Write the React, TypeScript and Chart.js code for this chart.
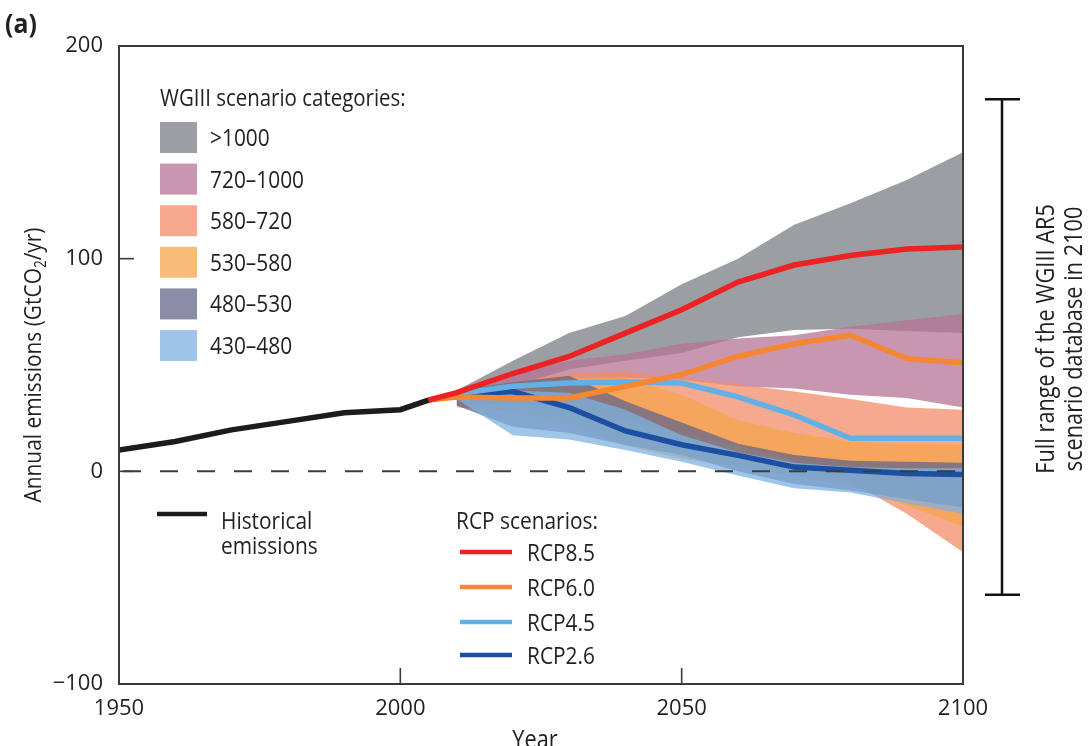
import React, { useEffect, useRef } from 'react';
import { Chart, registerables } from 'chart.js';

Chart.register(...registerables);

const FAMILY = '"Open Sans", "Noto Sans", sans-serif';
const INK = '#231f20';
const FRAME = '#3a3a3a';
const SX = 0.87;
const WEIGHT = '500';

// ---- data ----
const histYears = [1950, 1960, 1970, 1980, 1990, 2000, 2005];
const histEmissions = [10, 14, 19.5, 23.5, 27.5, 29, 33.5];

const rcpYears = [2005, 2010, 2020, 2030, 2040, 2050, 2060, 2070, 2080, 2090, 2100];
const rcp85 = [33.5, 37, 46, 54, 65, 76, 89, 97, 101.5, 104.5, 105.5];
const rcp60 = [33.5, 35, 34.5, 34.5, 40, 45.5, 54, 60, 64, 53, 51];
const rcp45 = [33.5, 36.5, 40, 41.5, 42, 41.5, 35, 26.5, 15.5, 15.5, 15.5];
const rcp26 = [33.5, 36, 37.5, 30, 19, 12.5, 7.5, 2, 0.5, -1, -1.5];

const bandYears = [2010, 2020, 2030, 2040, 2050, 2060, 2070, 2080, 2090, 2100];
const cat1000Hi = [38, 52, 65, 73, 88, 100, 116, 126, 137, 150];
const cat1000Lo = [35, 40, 48, 52, 55.6, 63, 66.5, 67, 66, 65];
const cat720Hi = [38, 46, 52, 55, 60, 62.5, 64, 68, 71, 74];
const cat720Lo = [34, 37, 40, 44, 43, 40, 39, 36, 34.5, 30];
const cat580Hi = [37, 42, 46, 47, 44, 41, 37.5, 34, 30, 29];
const cat580Lo = [31, 32, 30, 24, 18, 12, 5, -5, -20, -38];
const cat530Hi = [36, 40, 44, 44, 36, 24, 18, 14, 13, 12.5];
const cat530Lo = [30, 28, 22, 12, 6, 2, -2, -7, -16, -26];
const cat480Hi = [38, 42, 45, 33, 23, 13, 7.7, 5, 4.5, 4];
const cat480Lo = [31, 21, 18, 12.4, 7.7, 0, -6, -9, -13, -17];
const cat430Hi = [36, 38, 37, 29, 17, 9, 4, 2, 1.5, 1.5];
const cat430Lo = [34, 17, 15, 10, 4.5, -2, -8, -10, -15, -20];

const zeroYears = [1950, 2100];
const zeroValues = [0, 0];

const fullRange2100 = [-58, 175];

const catLabels = ['>1000', '720\u20131000', '580\u2013720', '530\u2013580', '480\u2013530', '430\u2013480'];
const catColors = [
  'rgba(122,127,132,0.75)',
  'rgba(182,115,147,0.75)',
  'rgba(242,142,106,0.75)',
  'rgba(247,164,75,0.75)',
  'rgba(100,102,136,0.75)',
  'rgba(127,178,224,0.75)',
];
const catHi = [cat1000Hi, cat720Hi, cat580Hi, cat530Hi, cat480Hi, cat430Hi];
const catLo = [cat1000Lo, cat720Lo, cat580Lo, cat530Lo, cat480Lo, cat430Lo];

const rcpLabels = ['RCP8.5', 'RCP6.0', 'RCP4.5', 'RCP2.6'];
const rcpColors = ['#ed2224', '#f58634', '#62b0e6', '#1c4fa1'];
const rcpSeries = [rcp85, rcp60, rcp45, rcp26];
const histColor = '#1c1c1c';

const xy = (xs: number[], ys: number[]) => xs.map((x, i) => ({ x, y: ys[i] }));

function drawText(
  ctx: CanvasRenderingContext2D,
  str: string,
  x: number,
  y: number,
  size: number,
  opts: { weight?: string; align?: CanvasTextAlign; color?: string; sx?: number; rotate?: number } = {}
) {
  const { weight = WEIGHT, align = 'left', color = INK, sx = SX, rotate = 0 } = opts;
  ctx.save();
  ctx.translate(x, y);
  if (rotate) ctx.rotate(rotate);
  ctx.scale(sx, 1);
  ctx.font = `${weight} ${size}px ${FAMILY}`;
  ctx.fillStyle = color;
  ctx.textAlign = align;
  ctx.textBaseline = 'alphabetic';
  ctx.fillText(str, 0, 0);
  ctx.restore();
}

function seg(ctx: CanvasRenderingContext2D, x1: number, y1: number, x2: number, y2: number) {
  ctx.beginPath();
  ctx.moveTo(x1, y1);
  ctx.lineTo(x2, y2);
  ctx.stroke();
}

const decorPlugin = {
  id: 'decor',
  afterDatasetsDraw(chart: any) {
    const { ctx, chartArea: a, scales } = chart;
    const xs = scales.x;
    const ys = scales.y;
    ctx.save();
    ctx.strokeStyle = FRAME;
    ctx.lineWidth = 2;
    ctx.strokeRect(a.left, a.top, a.right - a.left, a.bottom - a.top);
    ctx.lineWidth = 1.6;
    ys.ticks.forEach((t: any) => {
      if (t.value === ys.min || t.value === ys.max) return;
      const py = ys.getPixelForValue(t.value);
      seg(ctx, a.left, py, a.left + 15, py);
    });
    xs.ticks.forEach((t: any) => {
      if (t.value === xs.min || t.value === xs.max) return;
      const px = xs.getPixelForValue(t.value);
      seg(ctx, px, a.bottom, px, a.bottom - 16);
    });
    ctx.restore();
  },
  afterDraw(chart: any) {
    const { ctx, chartArea: a, scales } = chart;
    const ys = scales.y;
    ctx.save();

    // panel label
    drawText(ctx, '(a)', 5, 33, 27, { weight: 'bold', sx: 0.92 });

    // y-axis title with subscript
    {
      const size = 24;
      const p1 = 'Annual emissions (GtCO';
      const p2 = '2';
      const p3 = '/yr)';
      ctx.font = `${WEIGHT} ${size}px ${FAMILY}`;
      const w1 = ctx.measureText(p1).width;
      const w3 = ctx.measureText(p3).width;
      ctx.font = `${WEIGHT} ${size * 0.65}px ${FAMILY}`;
      const w2 = ctx.measureText(p2).width;
      const total = (w1 + w2 + w3) * SX;
      const cy = (a.top + a.bottom) / 2;
      ctx.save();
      ctx.translate(41, cy);
      ctx.rotate(-Math.PI / 2);
      ctx.scale(SX, 1);
      ctx.fillStyle = INK;
      ctx.textAlign = 'left';
      ctx.textBaseline = 'alphabetic';
      const start = -total / 2 / SX;
      ctx.font = `${WEIGHT} ${size}px ${FAMILY}`;
      ctx.fillText(p1, start, 0);
      ctx.font = `${WEIGHT} ${size * 0.65}px ${FAMILY}`;
      ctx.fillText(p2, start + w1, 5);
      ctx.font = `${WEIGHT} ${size}px ${FAMILY}`;
      ctx.fillText(p3, start + w1 + w2, 0);
      ctx.restore();
    }

    // x-axis title
    drawText(ctx, 'Year', (a.left + a.right) / 2 - 6, 748, 25, { align: 'center' });

    // scenario category legend
    drawText(ctx, 'WGIII scenario categories:', 160, 106, 23.5);
    catLabels.forEach((lab, i) => {
      const top = 122 + i * 41.6;
      ctx.fillStyle = catColors[i];
      ctx.fillRect(160, top, 37, 31);
      drawText(ctx, lab, 210, top + 24, 24);
    });

    // historical legend
    ctx.strokeStyle = histColor;
    ctx.lineWidth = 4.5;
    seg(ctx, 157, 514, 207, 514);
    drawText(ctx, 'Historical', 221, 529, 24);
    drawText(ctx, 'emissions', 221, 554, 24);

    // RCP legend
    drawText(ctx, 'RCP scenarios:', 456, 529, 24);
    const rcpY = [552, 587, 622, 655];
    rcpLabels.forEach((lab, i) => {
      ctx.strokeStyle = rcpColors[i];
      ctx.lineWidth = 4.5;
      seg(ctx, 460, rcpY[i], 512, rcpY[i]);
      drawText(ctx, lab, 527, rcpY[i] + 9, 24);
    });

    // full range bracket
    const yTop = ys.getPixelForValue(fullRange2100[1]);
    const yBot = ys.getPixelForValue(fullRange2100[0]);
    ctx.strokeStyle = '#111';
    ctx.lineWidth = 2.5;
    seg(ctx, 1002, yTop, 1002, yBot);
    seg(ctx, 985, yTop, 1020, yTop);
    seg(ctx, 985, yBot, 1020, yBot);

    const cy = (yTop + yBot) / 2 - 8;
    drawText(ctx, 'Full range of the WGIII AR5', 1054, cy, 25, { align: 'center', rotate: -Math.PI / 2 });
    drawText(ctx, 'scenario database in 2100', 1082, cy, 25, { align: 'center', rotate: -Math.PI / 2 });

    ctx.restore();
  },
};

export default function App() {
  const ref = useRef<HTMLCanvasElement>(null);

  useEffect(() => {
    const canvas = ref.current;
    if (!canvas) return;

    const lineBase = { pointRadius: 0, fill: false, tension: 0, borderCapStyle: 'butt' as const };
    const datasets: any[] = [];

    datasets.push({
      label: 'zero',
      data: xy(zeroYears, zeroValues),
      borderColor: '#3c3c3c',
      borderWidth: 2,
      borderDash: [18, 19],
      borderDashOffset: 33,
      order: -1,
      ...lineBase,
    });
    datasets.push({
      label: 'Historical emissions',
      data: xy(histYears, histEmissions),
      borderColor: histColor,
      borderWidth: 5.5,
      order: 0,
      ...lineBase,
    });
    rcpLabels.forEach((lab, i) => {
      datasets.push({
        label: lab,
        data: xy(rcpYears, rcpSeries[i]),
        borderColor: rcpColors[i],
        borderWidth: 5.5,
        order: 0,
        ...lineBase,
      });
    });
    catLabels.forEach((lab, k) => {
      const lowIdx = datasets.length;
      datasets.push({
        label: lab + ' low',
        data: xy(bandYears, catLo[k]),
        borderColor: 'rgba(0,0,0,0)',
        borderWidth: 0,
        pointRadius: 0,
        fill: false,
        order: 20 - k,
      });
      datasets.push({
        label: lab,
        data: xy(bandYears, catHi[k]),
        borderColor: 'rgba(0,0,0,0)',
        borderWidth: 0,
        pointRadius: 0,
        backgroundColor: catColors[k],
        fill: lowIdx,
        order: 20 - k,
      });
    });

    const tickFont = { family: FAMILY, size: 22, weight: 500 };
    const chart = new Chart(canvas, {
      type: 'line',
      data: { datasets },
      options: {
        animation: false,
        responsive: false,
        maintainAspectRatio: false,
        events: [],
        layout: { padding: { left: 0, top: 46, right: 129, bottom: 0 } },
        plugins: {
          legend: { display: false },
          tooltip: { enabled: false },
          title: { display: false },
        },
        scales: {
          x: {
            type: 'linear',
            min: 1950,
            max: 2100,
            ticks: {
              stepSize: 50,
              font: tickFont,
              color: INK,
              padding: 12,
              maxRotation: 0,
              callback: (v: any) => String(v),
            },
            grid: { display: false, drawTicks: false },
            border: { display: false },
            afterFit: (s: any) => {
              s.height = 62;
            },
          },
          y: {
            type: 'linear',
            min: -100,
            max: 200,
            ticks: {
              stepSize: 100,
              font: tickFont,
              color: INK,
              padding: 16,
              callback: (v: any) => (Number(v) < 0 ? '\u2212' + Math.abs(Number(v)) : String(v)),
            },
            grid: { display: false, drawTicks: false },
            border: { display: false },
            afterFit: (s: any) => {
              s.width = 119;
            },
          },
        },
      },
      plugins: [decorPlugin],
    });

    return () => chart.destroy();
  }, []);

  return (
    <div style={{ position: 'absolute', left: 0, top: 0, width: 1092, height: 746, background: '#fff', overflow: 'hidden' }}>
      <canvas ref={ref} width={1092} height={746} style={{ display: 'block', width: 1092, height: 746 }} />
    </div>
  );
}
